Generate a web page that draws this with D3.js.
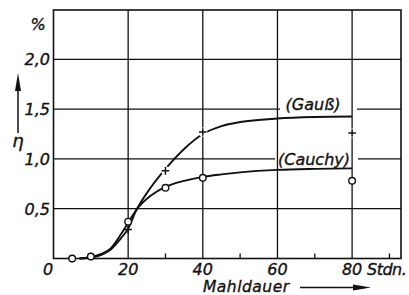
<!DOCTYPE html>
<html>
<head>
<meta charset="utf-8">
<script src="https://cdn.jsdelivr.net/npm/d3@7"></script>
<style>
  body { margin: 0; background: #fff; }
  svg { display: block; }
  text { font-family: "DejaVu Sans", sans-serif; font-style: oblique; fill: #111; stroke: #111; stroke-width: 0.35px; }
</style>
</head>
<body>
<div id="chart"></div>
<script>
// Messpunkte (Mahldauer in Stdn., eta in %)
const messZeit = [5, 10, 20, 30, 40, 80];
const gaussPunkte = [0.0, 0.02, 0.29, 0.88, 1.27, 1.26];
const cauchyPunkte = [0.0, 0.02, 0.37, 0.71, 0.81, 0.78];

// ausgeglichene Kurven
const kurveZeit = [7, 10, 13, 15, 18, 20, 22, 26, 30, 35, 40, 45, 50, 60, 70, 80];
const gaussKurve = [0, 0.01, 0.04, 0.08, 0.2, 0.3, 0.47, 0.71, 0.9, 1.1, 1.25, 1.33, 1.37, 1.405, 1.42, 1.425];
const cauchyKurve = [0, 0.015, 0.05, 0.09, 0.24, 0.36, 0.48, 0.63, 0.72, 0.78, 0.82, 0.845, 0.865, 0.89, 0.9, 0.905];

const xTicks = [20, 40, 60, 80];
const xMinor = [10, 30, 50, 70, 90];
const yTicks = [0.5, 1.0, 1.5, 2.0];
const yLabels = ["0,5", "1,0", "1,5", "2,0"];

const width = 409, height = 295;
const mLeft = 53.5, mRight = 401, mTop = 10, mBottom = 258.5;

const x = d3.scaleLinear().domain([0, 93.1]).range([mLeft, mRight]);
const y = d3.scaleLinear().domain([0, 2.495]).range([mBottom, mTop]);

const svg = d3.select("#chart").append("svg")
    .attr("width", width)
    .attr("height", height);

const ink = "#111";

// Gitter
const grid = svg.append("g").attr("stroke", ink).attr("stroke-width", 1.3);
grid.selectAll("line.v")
  .data(xTicks)
  .join("line")
    .attr("x1", d => x(d)).attr("x2", d => x(d))
    .attr("y1", mTop).attr("y2", mBottom);

// horizontale Linien, bei 1,0 und 1,5 fuer die Beschriftung unterbrochen
const luecken = new Map([[1.5, [280, 357]], [1.0, [275, 358]]]);
yTicks.forEach(t => {
  const g = luecken.get(t);
  const segs = g ? [[mLeft, g[0]], [g[1], mRight]] : [[mLeft, mRight]];
  segs.forEach(([a, b]) => {
    grid.append("line")
      .attr("x1", a).attr("x2", b)
      .attr("y1", y(t)).attr("y2", y(t));
  });
});

// kleine Striche an der x-Achse
grid.selectAll("line.m")
  .data(xMinor)
  .join("line")
    .attr("x1", d => x(d)).attr("x2", d => x(d))
    .attr("y1", mBottom).attr("y2", mBottom - 5);

// Rahmen
svg.append("rect")
    .attr("x", mLeft).attr("y", mTop)
    .attr("width", mRight - mLeft).attr("height", mBottom - mTop)
    .attr("fill", "none")
    .attr("stroke", ink)
    .attr("stroke-width", 1.6);

// Kurven
const line = d3.line()
    .x(d => x(d[0]))
    .y(d => y(d[1]))
    .curve(d3.curveMonotoneX);

[gaussKurve, cauchyKurve].forEach(werte => {
  svg.append("path")
      .datum(kurveZeit.map((t, i) => [t, werte[i]]))
      .attr("fill", "none")
      .attr("stroke", ink)
      .attr("stroke-width", 1.9)
      .attr("d", line);
});

// Messpunkte Gauss (+), mit weissem Hof
const plus = svg.append("g");
messZeit.forEach((t, i) => {
  const cx = x(t), cy = y(gaussPunkte[i]);
  if (t >= 30) {
    plus.append("circle").attr("cx", cx).attr("cy", cy).attr("r", 4.5).attr("fill", "#fff");
  }
  plus.append("path")
      .attr("d", `M${cx - 3.8},${cy}H${cx + 3.8}M${cx},${cy - 3.8}V${cy + 3.8}`)
      .attr("stroke", ink)
      .attr("stroke-width", 1.5);
});

// Messpunkte Cauchy (o)
svg.append("g")
  .selectAll("circle")
  .data(messZeit)
  .join("circle")
    .attr("cx", d => x(d))
    .attr("cy", (d, i) => y(cauchyPunkte[i]))
    .attr("r", 3.3)
    .attr("fill", "#fff")
    .attr("stroke", ink)
    .attr("stroke-width", 1.4);

// Kurvenbeschriftung
svg.append("text")
    .attr("x", 313).attr("y", 110)
    .attr("text-anchor", "middle")
    .style("font-size", "16px")
    .text("(Gauß)");
svg.append("text")
    .attr("x", 314).attr("y", 165)
    .attr("text-anchor", "middle")
    .style("font-size", "16px")
    .text("(Cauchy)");

// y-Achse
svg.append("g")
  .selectAll("text")
  .data(yTicks)
  .join("text")
    .attr("x", 50)
    .attr("y", d => y(d) + 6)
    .attr("text-anchor", "end")
    .style("font-size", "16px")
    .text((d, i) => yLabels[i]);

svg.append("text")
    .attr("x", 38).attr("y", 30)
    .attr("text-anchor", "middle")
    .style("font-size", "16px")
    .text("%");

svg.append("line")
    .attr("x1", 18).attr("x2", 18)
    .attr("y1", 88).attr("y2", 133)
    .attr("stroke", ink).attr("stroke-width", 1.5);
svg.append("path")
    .attr("d", "M18,73L21,91L15,91Z")
    .attr("fill", ink);
svg.append("text")
    .attr("x", 18).attr("y", 147)
    .attr("text-anchor", "middle")
    .style("font-size", "18px")
    .text("η");

// x-Achse
svg.append("text")
    .attr("x", 48).attr("y", 275)
    .attr("text-anchor", "middle")
    .style("font-size", "16px")
    .text("0");
svg.append("g")
  .selectAll("text")
  .data(xTicks)
  .join("text")
    .attr("x", d => x(d))
    .attr("y", 275)
    .attr("text-anchor", "middle")
    .style("font-size", "16px")
    .text(d => d);
svg.append("text")
    .attr("x", 367).attr("y", 275)
    .style("font-size", "16px")
    .style("letter-spacing", "-0.5px")
    .text("Stdn.");

svg.append("text")
    .attr("x", 203).attr("y", 292)
    .style("font-size", "15.5px")
    .style("letter-spacing", "0.5px")
    .text("Mahldauer");
svg.append("line")
    .attr("x1", 300).attr("x2", 356)
    .attr("y1", 287.5).attr("y2", 287.5)
    .attr("stroke", ink).attr("stroke-width", 1.5);
svg.append("path")
    .attr("d", "M371,287.5L353,284.5L353,290.5Z")
    .attr("fill", ink);
</script>
</body>
</html>
